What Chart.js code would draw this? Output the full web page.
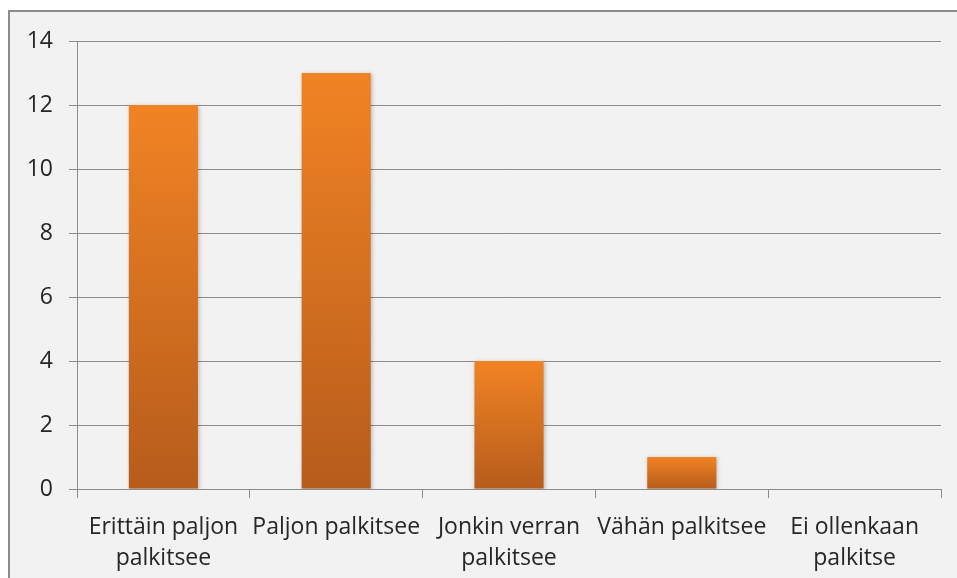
<!DOCTYPE html>
<html>
<head>
<meta charset="utf-8">
<script src="https://cdn.jsdelivr.net/npm/chart.js@4/dist/chart.umd.min.js"></script>
<style>
	html,body{margin:0;padding:0;background:#fff;}
	#frame{position:absolute;left:8px;top:10px;width:960px;height:580px;border:2px solid #8c8c8c;background:#f2f2f2;}
	#wrap{position:absolute;left:0;top:0;width:957px;height:578px;}
</style>
</head>
<body>
<div id="frame"></div>
<div id="wrap"><canvas id="grafica" width="957" height="578"></canvas></div>
<script>
var CATEGORIAS=[["Erittäin paljon","palkitsee"],"Paljon palkitsee",["Jonkin verran","palkitsee"],"Vähän palkitsee",["Ei ollenkaan","palkitse"]];
var VALORES=[12,13,4,1,0];
var Y_MIN=0;
var Y_MAX=14;
var Y_PASO=2;

function degradado(context){
	var chart=context.chart;
	var area=chart.chartArea;
	if(!area){ return '#e27a22'; }
	var y=chart.scales.y;
	var valor=context.raw||0;
	var arriba=y.getPixelForValue(valor);
	var abajo=y.getPixelForValue(0);
	if(abajo-arriba<1){ return '#e27a22'; }
	var g=chart.ctx.createLinearGradient(0,arriba,0,abajo);
	g.addColorStop(0,'#f18324');
	g.addColorStop(1,'#b65c1c');
	return g;
}

var sombra={
	id:'sombra',
	beforeDatasetsDraw:function(chart){
		chart.ctx.save();
		chart.ctx.shadowColor='rgba(0,0,0,0.25)';
		chart.ctx.shadowBlur=4;
		chart.ctx.shadowOffsetX=1;
		chart.ctx.shadowOffsetY=1;
	},
	afterDatasetsDraw:function(chart){
		chart.ctx.restore();
	}
};

var config={
	type:'bar',
	data:{
		labels:CATEGORIAS,
		datasets:[{
			data:VALORES,
			backgroundColor:degradado,
			borderWidth:0,
			barPercentage:0.4,
			categoryPercentage:1
		}]
	},
	options:{
		responsive:false,
		animation:false,
		layout:{padding:{left:0,top:41,right:16,bottom:0}},
		plugins:{
			legend:{display:false},
			tooltip:{enabled:false}
		},
		scales:{
			x:{
				offset:true,
				grid:{display:true,drawOnChartArea:false,drawTicks:true,tickLength:9,color:'#8c8c8c',offset:true},
				border:{display:true,color:'#8c8c8c'},
				ticks:{color:'#262626',font:{family:'Open Sans',size:23,lineHeight:1.35},padding:14,maxRotation:0,autoSkip:false},
				afterFit:function(scale){scale.height=89;}
			},
			y:{
				min:Y_MIN,
				max:Y_MAX,
				ticks:{stepSize:Y_PASO,color:'#262626',font:{family:'Open Sans',size:23},padding:16},
				grid:{color:'#8c8c8c',tickLength:8},
				border:{display:true,color:'#8c8c8c'},
				afterFit:function(scale){scale.width=77;}
			}
		}
	},
	plugins:[sombra]
};

var canvas=document.getElementById('grafica').getContext('2d');
new Chart(canvas,config);
</script>
</body>
</html>
